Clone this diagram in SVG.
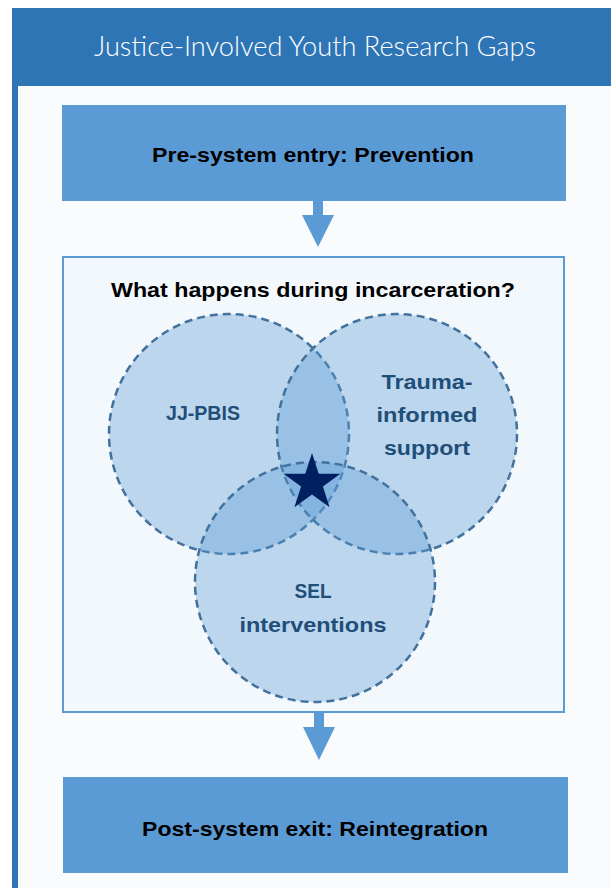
<svg xmlns="http://www.w3.org/2000/svg" width="611" height="888" viewBox="0 0 611 888">
<style>
.box{fill:#5b9bd5}
.bt{font-family:"Liberation Sans",Arial,sans-serif;font-weight:bold;font-size:20.5px;fill:#000;text-anchor:middle}
.ct{font-family:"Liberation Sans",Arial,sans-serif;font-weight:bold;font-size:21px;fill:#1f4e79;text-anchor:middle}
.circ{fill:#5b9bd5;fill-opacity:0.36;stroke:#41719c;stroke-width:2.5;stroke-dasharray:8 5}
.arrow{fill:#5b9bd5}
</style>
<rect width="611" height="888" fill="#ffffff"/>
<g id="frame">
<rect x="12" y="8" width="610" height="890" fill="#2e75b6"/>
<rect x="18" y="86" width="600" height="810" fill="#f9fbfd"/>
<text x="315" y="56" font-family="Lato,'Open Sans','Liberation Sans',sans-serif" font-weight="300" font-size="27" fill="#ffffff" text-anchor="middle" textLength="442" lengthAdjust="spacingAndGlyphs">Justice-Involved Youth Research Gaps</text>
</g>
<g id="prevention">
<rect class="box" x="62" y="105" width="504" height="96"/>
<text class="bt" x="313" y="162" textLength="322" lengthAdjust="spacingAndGlyphs">Pre-system entry: Prevention</text>
</g>
<g id="incarceration">
<rect x="63" y="257" width="501" height="455" fill="#f3f8fc" stroke="#5b9bd5" stroke-width="2"/>
<text class="bt" x="313" y="297" textLength="404" lengthAdjust="spacingAndGlyphs">What happens during incarceration?</text>
</g>
<g id="jj-pbis">
<circle class="circ" cx="229" cy="434" r="120"/>
</g>
<g id="trauma">
<circle class="circ" cx="397" cy="434" r="120"/>
</g>
<g id="sel">
<circle class="circ" cx="315" cy="582" r="120"/>
</g>
<g id="labels">
<text class="ct" x="203" y="420" textLength="74" lengthAdjust="spacingAndGlyphs">JJ-PBIS</text>
<text class="ct" x="427" y="389" textLength="91" lengthAdjust="spacingAndGlyphs">Trauma-</text>
<text class="ct" x="427" y="422" textLength="101" lengthAdjust="spacingAndGlyphs">informed</text>
<text class="ct" x="427" y="455" textLength="86" lengthAdjust="spacingAndGlyphs">support</text>
<text class="ct" x="313" y="598" textLength="37" lengthAdjust="spacingAndGlyphs">SEL</text>
<text class="ct" x="313" y="632" textLength="147" lengthAdjust="spacingAndGlyphs">interventions</text>
</g>
<g id="star">
<polygon fill="#002060" points="312,453 318.7,473.7 340.5,473.7 322.9,486.5 329.6,507.3 312,494.4 294.4,507.3 301.1,486.5 283.5,473.7 305.3,473.7"/>
</g>
<g id="reintegration">
<rect class="box" x="63" y="777" width="505" height="96"/>
<text class="bt" x="315" y="836" textLength="346" lengthAdjust="spacingAndGlyphs">Post-system exit: Reintegration</text>
</g>
<g id="connectors">
<polygon class="arrow" points="313,201 323,201 323,215 334,215 318,247 302,215 313,215"/>
<polygon class="arrow" points="314,712 324,712 324,727 335,727 319,760 303,727 314,727"/>
</g>
</svg>
